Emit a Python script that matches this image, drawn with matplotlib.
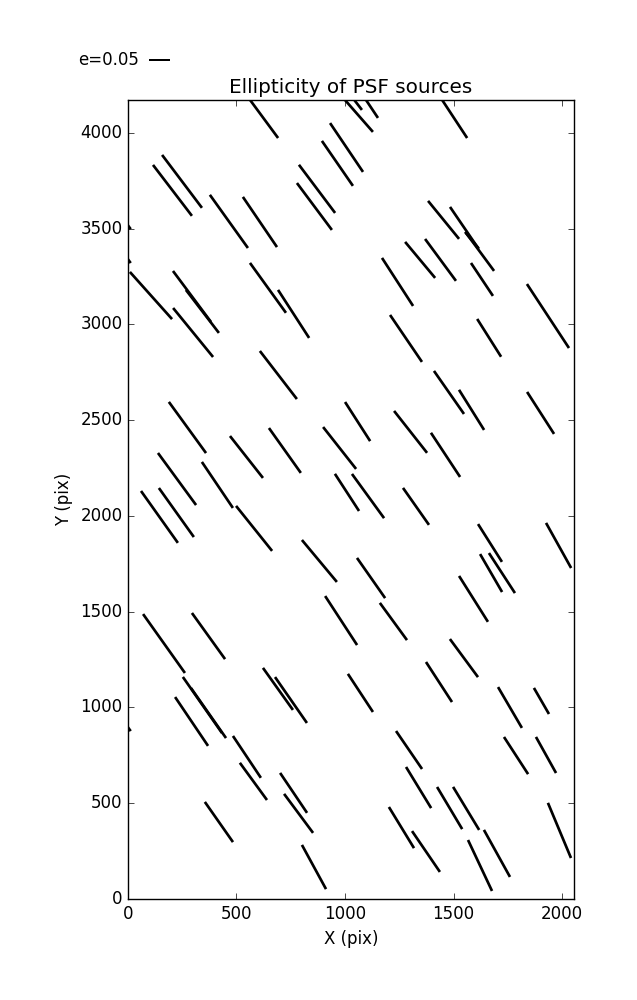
import numpy as np
import matplotlib
matplotlib.use('Agg')
import matplotlib.pyplot as plt

plt.style.use('classic')

# source positions (pix), ellipticity and position angle (deg)
x = [627, 1064, 1055, 1115, 1505, 249, 205, 465, 608, 1007, 965, 871, 859,
     1454, 1548, 1622, 1585, 1346, 1440, 1242, 1631, 1935, 106, 295, 343,
     645, 763, 300, 1281, 1664, 693, 274, 1479, 1583, 1901, 1058, 975, 723,
     546, 1302, 1463, 226, 412, 145, 223, 1009, 1106, 1327, 581, 1668, 1984,
     882, 1120, 1673, 1723, 1592, 982, 1223, 166, 371, 1548, 1433, 1071, 691,
     751, 343, 371, 1760, 1905, 293, 548, 578, 763, 786, 419, 857, 1295, 1788,
     1926, 1339, 1482, 1558, 1988, 1260, 1373, 1622, 1700, -55, -55, -55]
y = [4073, 4089, 4154, 4141, 4073, 3747, 3700, 3538, 3535, 3924, 3841, 3708,
     3616, 3546, 3507, 3379, 3439, 3337, 3337, 3222, 3235, 3044, 3151, 3146,
     3068, 3191, 3055, 2958, 2927, 2930, 2736, 2462, 2645, 2554, 2538, 2493,
     2355, 2342, 2308, 2439, 2319, 2193, 2162, 1995, 2018, 2123, 2104, 2050,
     1935, 1859, 1846, 1765, 1676, 1702, 1702, 1567, 1454, 1449, 1334, 1373,
     1258, 1133, 1076, 1097, 1039, 1013, 971, 1000, 1034, 927, 742, 614, 554,
     447, 402, 167, 778, 749, 752, 582, 475, 473, 358, 373, 248, 175, 238,
     3603, 3426, 982]
e = [0.110, 0.099, 0.038, 0.067, 0.106, 0.154, 0.149, 0.152, 0.141, 0.137,
     0.127, 0.140, 0.136, 0.114, 0.115, 0.110, 0.051, 0.109, 0.121, 0.133,
     0.092, 0.178, 0.147, 0.148, 0.126, 0.143, 0.133, 0.147, 0.132, 0.104,
     0.141, 0.147, 0.122, 0.110, 0.116, 0.108, 0.124, 0.128, 0.124, 0.124,
     0.123, 0.150, 0.129, 0.148, 0.140, 0.103, 0.127, 0.105, 0.134, 0.104,
     0.120, 0.127, 0.114, 0.102, 0.111, 0.126, 0.136, 0.107, 0.168, 0.132,
     0.110, 0.111, 0.106, 0.120, 0.130, 0.159, 0.142, 0.110, 0.070, 0.137,
     0.117, 0.107, 0.112, 0.113, 0.114, 0.117, 0.107, 0.103, 0.096, 0.112,
     0.114, 0.117, 0.139, 0.112, 0.115, 0.131, 0.125, 0.116, 0.116, 0.116]
theta = [-53.6, -48.8, -52.4, -56.3, -56.7, -53.0, -52.6, -54.4, -55.8, -56.0,
         -55.4, -53.1, -53.3, -50.8, -55.7, -53.6, -50.5, -50.2, -53.6, -57.1,
         -56.3, -56.7, -48.2, -53.3, -52.5, -54.2, -57.1, -50.8, -55.8, -57.7,
         -52.4, -54.0, -55.1, -58.0, -57.3, -57.3, -51.8, -54.6, -51.8, -51.8,
         -56.6, -53.8, -56.0, -54.6, -54.5, -57.0, -54.0, -54.9, -51.3, -57.7,
         -60.9, -50.2, -55.0, -59.9, -57.0, -57.8, -56.9, -53.9, -54.6, -54.3,
         -53.6, -57.0, -56.7, -54.5, -55.2, -55.1, -55.0, -59.7, -60.0, -56.0,
         -56.3, -53.9, -56.0, -53.4, -55.0, -61.4, -55.6, -57.0, -60.9, -58.6,
         -59.2, -58.8, -67.3, -58.6, -55.7, -64.8, -61.0, -54.0, -54.0, -54.0]

x = np.array(x, float)
y = np.array(y, float)
e = np.array(e)
t = np.radians(theta)
u = e * np.cos(t)
v = e * np.sin(t)

fig = plt.figure(figsize=(6.37, 10), dpi=100, facecolor='white')
ax = fig.add_axes([0.2009, 0.101, 0.7002, 0.799])

q = ax.quiver(x, y, u, v, pivot='middle', headwidth=0, headlength=0,
              headaxislength=0, units='inches', width=0.027,
              scale_units='inches', scale=0.05 / 0.215, color='k')
ax.quiverkey(q, 0.2343, 0.94, 0.05, 'e=0.05', labelpos='W',
             coordinates='figure', fontproperties={'size': 12})

ax.set_xlim(0, 2055)
ax.set_ylim(0, 4172)
ax.set_xticks([0, 500, 1000, 1500, 2000])
ax.set_yticks([0, 500, 1000, 1500, 2000, 2500, 3000, 3500, 4000])
ax.set_xlabel('X (pix)')
ax.set_ylabel('Y (pix)')
ax.set_title('Ellipticity of PSF sources')

fig.savefig('out.png', dpi=100, facecolor='white')
